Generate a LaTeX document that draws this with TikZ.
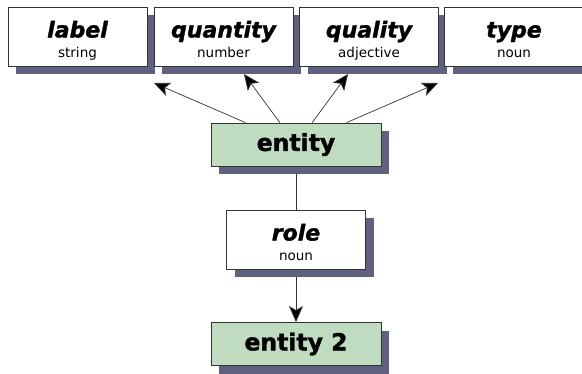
\documentclass[tikz,border=0pt]{standalone}
\usepackage{fontspec}
\setmainfont{DejaVu Sans}[BoldFeatures={FakeBold=1.5}, BoldItalicFeatures={FakeBold=1.5}]
\usepackage{xcolor}
\definecolor{shadowslate}{RGB}{96,96,128}
\definecolor{entitygreen}{RGB}{192,220,192}
\definecolor{linegray}{RGB}{51,51,51}
\usepackage{tikz}
\usetikzlibrary{shadows, backgrounds, arrows.meta}
\newcommand{\fieldname}[1]{{\rule{0pt}{25.5pt}\bfseries\itshape\fontsize{22}{19.5}\selectfont #1}}
\newcommand{\fieldtype}[1]{\rule[-4pt]{0pt}{4pt}#1}
\tikzset{
  shade8/.style  = {drop shadow={shadow xshift=8pt, shadow yshift=-8pt, fill=shadowslate, opacity=1}},
  field/.style   = {rectangle, draw=linegray, line width=0.9pt, fill=white, shade8,
                    minimum width=139pt, minimum height=59pt, inner sep=0pt, align=center,
                    font=\fontsize{13.5}{19.5}\selectfont},
  entbox/.style  = {rectangle, draw=linegray, line width=0.9pt, fill=entitygreen, shade8,
                    minimum width=170pt, minimum height=43pt, inner sep=0pt,
                    font=\bfseries\fontsize{23.5}{26}\selectfont},
  conn/.style    = {-{Stealth[length=16pt, width=14pt, inset=4pt, fill=black]}, line width=0.7pt, draw=linegray},
  link/.style    = {line width=0.7pt, draw=linegray},
}
\begin{document}
\begin{tikzpicture}[x=1pt, y=-1pt]
    \clip (0,0) rectangle (582,373);

    % ── Attribute boxes along the top ───────────────────────────
    \node[field] (label)    at (77.5, 36.5)  {\fieldname{label}\\ \fieldtype{string}};
    \node[field] (quantity) at (223.5, 36.5) {\fieldname{quantity}\\ \fieldtype{number}};
    \node[field] (quality)  at (369, 36.5)   {\fieldname{quality}\\ \fieldtype{adjective}};
    \node[field] (type)     at (514, 36.5)   {\fieldname{type}\\ \fieldtype{noun}};

    % ── Entities and the role between them ──────────────────────
    \node[entbox] (entity)  at (296, 144.5) {entity};
    \node[field]  (role)    at (296, 239.5) {\fieldname{role}\\ \fieldtype{noun}};
    \node[entbox] (entity2) at (296, 344)   {entity 2};

    % ── Free ends of the attribute arrows ───────────────────────
    \coordinate (tolabel)    at (154, 83);
    \coordinate (toquantity) at (244, 74);
    \coordinate (toquality)  at (348, 74);
    \coordinate (totype)     at (438, 83);

    % ── Edges ───────────────────────────────────────────────────
    \draw[conn] (entity) -- (tolabel);     \draw[conn] (entity) -- (toquantity);
    \draw[conn] (entity) -- (toquality);   \draw[conn] (entity) -- (totype);
    \begin{scope}[on background layer]
      \draw[link] (entity) -- (role);
      \draw[conn] (role) -- (entity2);
    \end{scope}
\end{tikzpicture}
\end{document}
